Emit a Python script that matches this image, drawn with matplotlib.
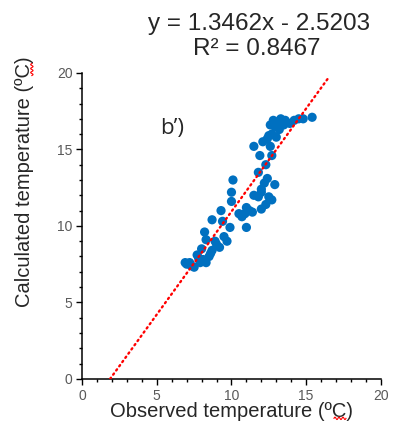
import numpy as np
import matplotlib.pyplot as plt
import matplotlib.ticker as mticker
from matplotlib.lines import Line2D

plt.rcParams['font.family'] = ['Liberation Sans', 'DejaVu Sans']

# observed vs calculated temperature (ºC)
obs = [12.8, 13.1, 12.6, 13.3, 15.4, 14.2, 14.5, 13.9, 14.8, 13.6,
       12.9, 13.2, 12.4, 12.7, 12.1, 12.5, 11.5, 11.9, 12.7, 12.3,
       11.8, 12.4, 10.1, 12.9, 10.0, 12.0, 11.5, 12.7, 10.0, 12.0,
       12.5, 12.3, 9.3, 11.0, 11.4, 10.9, 11.0, 8.7, 9.4, 9.9,
       9.7, 8.2, 8.3, 8.9, 9.2, 8.7, 7.7, 8.5, 8.1, 7.2,
       7.0, 7.5, 7.9, 8.3, 6.9, 7.3, 7.8, 8.6, 9.0, 9.5,
       10.5, 10.7, 11.2, 12.2, 12.6, 13.0, 13.5, 12.0, 11.8, 8.0]
calc = [16.9, 16.8, 16.6, 17.0, 17.1, 16.9, 17.0, 16.7, 17.0, 16.9,
        16.5, 16.3, 15.7, 16.0, 15.5, 15.9, 15.2, 14.6, 14.6, 14.0,
        13.5, 13.1, 13.0, 12.7, 12.2, 12.4, 12.0, 11.7, 11.6, 12.2,
        11.9, 11.4, 11.0, 11.2, 10.9, 10.8, 9.9, 10.4, 10.3, 9.9,
        9.0, 9.6, 9.1, 9.0, 8.6, 8.4, 8.1, 8.0, 7.8, 7.6,
        7.5, 7.3, 7.6, 7.6, 7.6, 7.4, 7.9, 8.2, 8.8, 9.3,
        10.8, 10.6, 11.0, 12.8, 15.2, 15.8, 16.6, 11.1, 11.9, 8.5]

slope = 1.3462
intercept = -2.5203
r2 = 0.8467

fig = plt.figure(figsize=(3.93, 4.34), dpi=100)
ax = fig.add_axes([0.209, 0.127, 0.76, 0.705])

ax.scatter(obs, calc, s=44, color='#0070C0', edgecolors='none', zorder=2)

xt = np.array([-intercept / slope, 16.5])
ax.plot(xt, slope * xt + intercept, color='#FF0000', linewidth=1.7,
        linestyle=(0, (0.6, 1.6)), dash_capstyle='round', zorder=3)

ax.set_xlim(0, 20)
ax.set_ylim(0, 20)
ax.xaxis.set_major_locator(mticker.MultipleLocator(5))
ax.yaxis.set_major_locator(mticker.MultipleLocator(5))
ax.xaxis.set_minor_locator(mticker.MultipleLocator(1))
ax.yaxis.set_minor_locator(mticker.MultipleLocator(1))
ax.spines['top'].set_visible(False)
ax.spines['right'].set_visible(False)
for s in ['left', 'bottom']:
    ax.spines[s].set_linewidth(1.1)
ax.tick_params('both', which='major', length=4, width=1, labelsize=10,
               labelcolor='#595959', pad=3)
ax.tick_params('both', which='minor', length=2.5, width=1)

xl = ax.set_xlabel('Observed temperature (ºC)', fontsize=14.5, color='#262626')
yl = ax.set_ylabel('Calculated temperature (ºC)', fontsize=14.5, color='#262626')
ax.xaxis.set_label_coords(0.5, -0.075)
ax.yaxis.set_label_coords(-0.16, 0.644)

ax.text(0.26, 0.8, 'b’)', transform=ax.transAxes, fontsize=16,
        family='Open Sans', color='#262626')

fig.text(0.659, 0.945, 'y = 1.3462x - 2.5203', ha='center', va='center',
         fontsize=17.5, color='#262626')
fig.text(0.653, 0.887, 'R² = %.4f' % r2, ha='center', va='center',
         fontsize=17.5, color='#262626')

# red spell-check squiggle under "ºC" in both axis labels
fig.canvas.draw()
t = np.linspace(0, 1, 40)
bx = xl.get_window_extent()
sx = bx.x1 - 19 + 12 * t
sy = bx.y0 + 2.5 + 1.2 * np.sin(t * 6 * np.pi)
fig.add_artist(Line2D(sx, sy, transform=None, color='#FF0000', linewidth=0.8))
by = yl.get_window_extent()
sy2 = by.y1 - 19 + 12 * t
sx2 = by.x1 - 2.5 + 1.2 * np.sin(t * 6 * np.pi)
fig.add_artist(Line2D(sx2, sy2, transform=None, color='#FF0000', linewidth=0.8))

fig.savefig('out.png', dpi=100)
